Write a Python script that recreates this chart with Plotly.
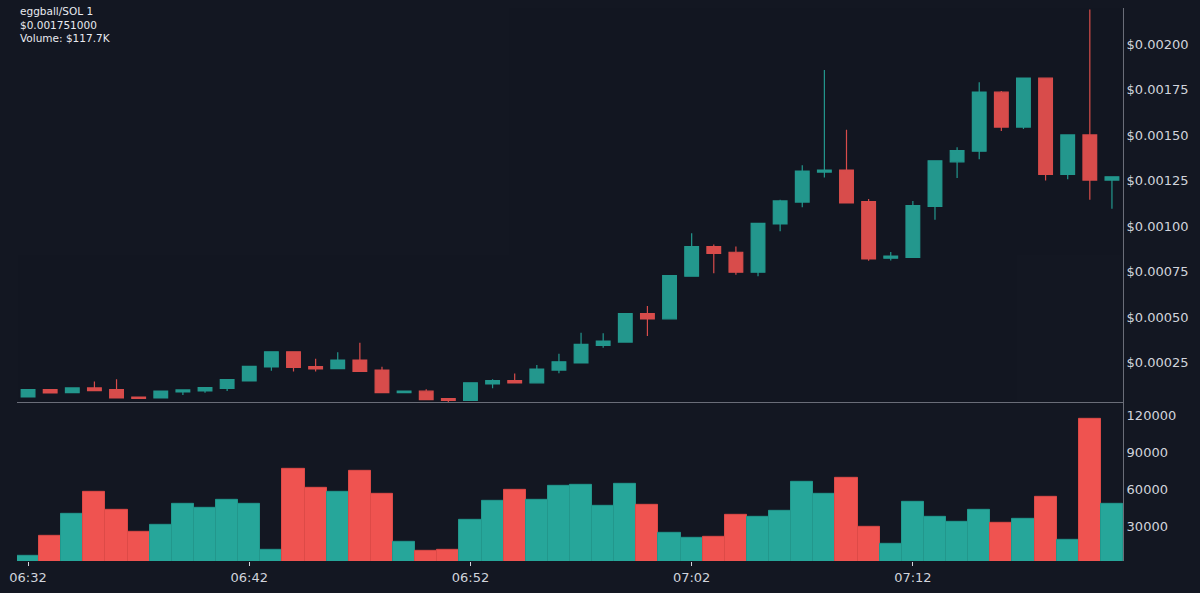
import pandas as pd
import plotly.graph_objects as go
from plotly.subplots import make_subplots

times = pd.date_range("2024-01-01 06:32", periods=50, freq="min")

open_ = [0.000061, 0.000102, 0.000085, 0.000111, 0.000102, 0.000061, 0.000056, 0.000089, 0.000094, 0.000109,
         0.000149, 0.000226, 0.000310, 0.000228, 0.000217, 0.000264, 0.000209, 0.000085, 0.000093, 0.000052,
         0.000043, 0.000133, 0.000151, 0.000139, 0.000209, 0.000248, 0.000345, 0.000363, 0.000519, 0.000491,
         0.000725, 0.000888, 0.000857, 0.000747, 0.001013, 0.001133, 0.001298, 0.001309, 0.001135, 0.000824,
         0.000829, 0.001109, 0.001354, 0.001413, 0.001737, 0.001545, 0.001814, 0.001285, 0.001502, 0.001254]
high = [0.000103, 0.000104, 0.000114, 0.000146, 0.000158, 0.000062, 0.000094, 0.000101, 0.000114, 0.000158,
        0.000231, 0.000312, 0.000312, 0.000272, 0.000307, 0.000360, 0.000228, 0.000094, 0.000104, 0.000053,
        0.000140, 0.000158, 0.000190, 0.000237, 0.000299, 0.000415, 0.000411, 0.000520, 0.000561, 0.000730,
        0.000961, 0.000899, 0.000888, 0.001017, 0.001146, 0.001336, 0.001859, 0.001530, 0.001150, 0.000859,
        0.001139, 0.001361, 0.001435, 0.001792, 0.001744, 0.001815, 0.001815, 0.001503, 0.002192, 0.001273]
low = [0.000060, 0.000082, 0.000082, 0.000095, 0.000055, 0.000052, 0.000055, 0.000072, 0.000085, 0.000094,
       0.000148, 0.000206, 0.000201, 0.000201, 0.000215, 0.000200, 0.000083, 0.000084, 0.000046, 0.000034,
       0.000042, 0.000109, 0.000138, 0.000138, 0.000191, 0.000246, 0.000332, 0.000361, 0.000396, 0.000490,
       0.000723, 0.000742, 0.000733, 0.000725, 0.000972, 0.001104, 0.001268, 0.001126, 0.000810, 0.000811,
       0.000828, 0.001036, 0.001265, 0.001369, 0.001524, 0.001534, 0.001252, 0.001259, 0.001146, 0.001096]
close = [0.000102, 0.000083, 0.000111, 0.000096, 0.000056, 0.000054, 0.000093, 0.000100, 0.000113, 0.000157,
         0.000230, 0.000310, 0.000224, 0.000215, 0.000264, 0.000202, 0.000085, 0.000093, 0.000047, 0.000043,
         0.000139, 0.000151, 0.000139, 0.000215, 0.000255, 0.000350, 0.000368, 0.000519, 0.000491, 0.000729,
         0.000888, 0.000851, 0.000747, 0.001016, 0.001139, 0.001303, 0.001309, 0.001128, 0.000821, 0.000836,
         0.001113, 0.001360, 0.001416, 0.001737, 0.001545, 0.001814, 0.001285, 0.001502, 0.001254, 0.001272]
volume = [6200, 22400, 40800, 58600, 44000, 26200, 31300, 48100, 45400, 52100,
          48400, 11600, 76500, 61300, 58100, 75100, 57000, 18100, 10300, 11400,
          35700, 51100, 60000, 52100, 63200, 64000, 46700, 64300, 47800, 25400,
          21300, 22100, 39400, 37800, 42700, 66700, 56700, 69900, 30000, 16500,
          50000, 38100, 34000, 44000, 33500, 36700, 53800, 19500, 117700, 48900]

UP = "#26a69a"
DOWN = "#ef5350"
BG = "#131722"
TXT = "#d1d4dc"
AXIS = "#6a6d78"

vol_colors = [UP if c >= o else DOWN for o, c in zip(open_, close)]
vol_line = ["#22978c" if c >= o else "#dd4a47" for o, c in zip(open_, close)]

fig = make_subplots(rows=2, cols=1, shared_xaxes=True, vertical_spacing=0)

fig.add_trace(go.Candlestick(
    x=times, open=open_, high=high, low=low, close=close,
    increasing=dict(line=dict(color=UP, width=1.2), fillcolor=UP),
    decreasing=dict(line=dict(color=DOWN, width=1.2), fillcolor=DOWN),
    opacity=0.9, whiskerwidth=0, showlegend=False, hoverinfo="skip"
), row=1, col=1)

fig.add_trace(go.Bar(
    x=times, y=volume, marker=dict(color=vol_colors, line=dict(color=vol_line, width=1)),
    showlegend=False, hoverinfo="skip"
), row=2, col=1)

x0 = times[0] - pd.Timedelta(seconds=30)
x1 = times[-1] + pd.Timedelta(seconds=30)

fig.update_layout(
    width=1200, height=593,
    paper_bgcolor=BG, plot_bgcolor=BG,
    margin=dict(l=17, r=77, t=8, b=32),
    bargap=0, boxgap=0.38, boxgroupgap=0,
    font=dict(family="DejaVu Sans", color=TXT, size=13),
    showlegend=False,
    annotations=[dict(
        xref="paper", yref="paper", x=0, y=1, xanchor="left", yanchor="top",
        xshift=1, yshift=5, align="left", showarrow=False,
        text="eggball/SOL 1<br>$0.001751000<br>Volume: $117.7K",
        font=dict(family="DejaVu Sans", size=10.5, color="#e8eaf0"),
    )],
)

fig.update_xaxes(
    range=[x0, x1], showgrid=False, zeroline=False,
    rangeslider=dict(visible=False),
)
fig.update_xaxes(row=1, col=1, showline=True, linecolor=AXIS, linewidth=1,
                 showticklabels=False, ticks="")
fig.update_xaxes(row=2, col=1, showline=False, ticks="outside", ticklen=4, tickcolor=TXT,
                 tick0=times[0], dtick=600000, tickformat="%H:%M",
                 tickfont=dict(size=13, color=TXT))

fig.update_yaxes(row=1, col=1, domain=[0.287, 1.0], side="right", range=[0.000032, 0.0022],
                 showgrid=False, zeroline=False, showline=True, linecolor=AXIS, linewidth=1,
                 tick0=0, dtick=0.00025, tickprefix="$", tickformat=".5f", ticks="",
                 tickfont=dict(size=13, color=TXT))
fig.update_yaxes(row=2, col=1, domain=[0.0, 0.286], side="right", range=[2200, 130300],
                 showgrid=False, zeroline=False, showline=True, linecolor=AXIS, linewidth=1,
                 tickvals=[30000, 60000, 90000, 120000], tickformat="d", ticks="",
                 tickfont=dict(size=13, color=TXT))

fig.write_html("out.html")
